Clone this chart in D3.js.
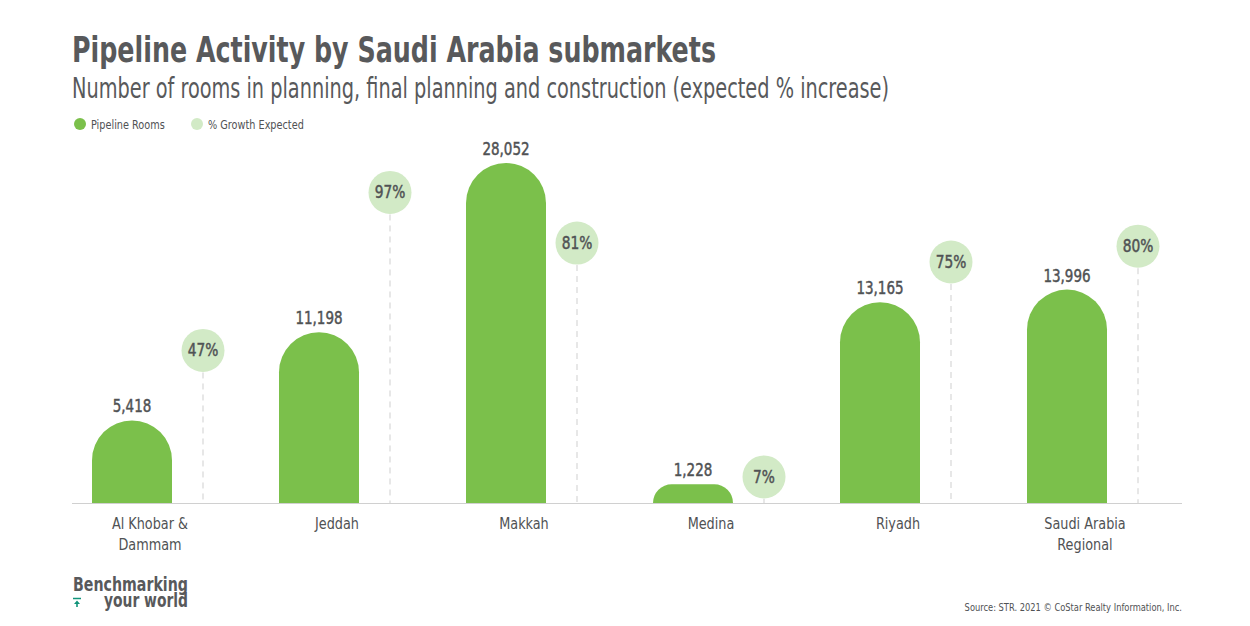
<!DOCTYPE html>
<html>
<head>
<meta charset="utf-8">
<script src="https://cdn.jsdelivr.net/npm/d3@7"></script>
<style>
  body { margin: 0; background: #fff; }
  svg text { font-family: 'Liberation Sans Narrow', 'DejaVu Sans Condensed', sans-serif; }
</style>
</head>
<body>
<script>
// chart data
const submarkets = ["Al Khobar & Dammam", "Jeddah", "Makkah", "Medina", "Riyadh", "Saudi Arabia Regional"]
const categoryLines = [["Al Khobar &", "Dammam"], ["Jeddah"], ["Makkah"], ["Medina"], ["Riyadh"], ["Saudi Arabia", "Regional"]]
const pipelineRooms = [5418, 11198, 28052, 1228, 13165, 13996]
const growthExpected = [47, 97, 81, 7, 75, 80]
const legendLabels = ["Pipeline Rooms", "% Growth Expected"]

const width = 1250, height = 626
const baseline = 503
const green = "#7bc04b", lightGreen = "#d2eac6", textGray = "#505254"

const svg = d3.select("body").append("svg")
    .attr("width", width)
    .attr("height", height)

// squeeze text horizontally so it looks like the condensed face of the original
function condense(sel, factor) {
    sel.each(function () {
        const len = this.getComputedTextLength()
        d3.select(this)
            .attr("textLength", len * factor)
            .attr("lengthAdjust", "spacingAndGlyphs")
    })
}

// title + subtitle
svg.append("text")
    .attr("x", 72).attr("y", 62)
    .attr("fill", "#58595b")
    .style("font-size", "36px")
    .style("font-weight", "bold")
    .attr("textLength", 644).attr("lengthAdjust", "spacingAndGlyphs")
    .text("Pipeline Activity by Saudi Arabia submarkets")

svg.append("text")
    .attr("x", 72).attr("y", 98)
    .attr("fill", "#58595b")
    .style("font-size", "29px")
    .attr("textLength", 817).attr("lengthAdjust", "spacingAndGlyphs")
    .text("Number of rooms in planning, final planning and construction (expected % increase)")

// legend
const legend = svg.append("g")
const legendX = [80, 197]
legendLabels.forEach((label, i) => {
    legend.append("circle")
        .attr("cx", legendX[i]).attr("cy", 124).attr("r", 6)
        .attr("fill", i == 0 ? green : lightGreen)
    legend.append("text")
        .attr("x", legendX[i] + 11).attr("y", 128.5)
        .attr("fill", textGray)
        .style("font-size", "13px")
        .text(label)
})
condense(legend.selectAll("text"), 0.83)

// scales
const xScale = d3.scaleBand()
    .domain(submarkets)
    .range([72, 72 + 187 * submarkets.length])

// Makkah is cut off at the top of the plot
const yScale = d3.scaleLinear()
    .domain([0, 22300])
    .range([baseline, 163])
    .clamp(true)

const pctScale = d3.scaleLinear()
    .domain([0, 100])
    .range([baseline - 4, baseline - 320])

const data = submarkets.map((s, i) => ({
    name: s, lines: categoryLines[i], rooms: pipelineRooms[i], pct: growthExpected[i]
}))

const barW = 80
const barX = d => xScale(d.name) + 20
const bubbleX = d => xScale(d.name) + 131

// rounded-top bar path
function barPath(d) {
    const x0 = barX(d), x1 = x0 + barW
    const top = yScale(d.rooms)
    const h = baseline - top
    const r = Math.min(barW / 2, h)
    return "M" + x0 + "," + baseline +
        "V" + (top + r) +
        "A" + r + "," + r + " 0 0 1 " + (x0 + r) + "," + top +
        "H" + (x1 - r) +
        "A" + r + "," + r + " 0 0 1 " + x1 + "," + (top + r) +
        "V" + baseline + "Z"
}

// dashed lines from bubbles to baseline
svg.selectAll(".drop").data(data)
    .enter().append("line")
    .attr("x1", bubbleX).attr("x2", bubbleX)
    .attr("y1", d => pctScale(d.pct)).attr("y2", baseline)
    .attr("stroke", "#cfcfcf")
    .attr("stroke-width", 1)
    .attr("stroke-dasharray", "6,5")

// axis line
svg.append("line")
    .attr("x1", 72).attr("x2", 1182)
    .attr("y1", baseline + 0.5).attr("y2", baseline + 0.5)
    .attr("stroke", "#d0d0d0")
    .attr("stroke-width", 1)

// bars
svg.selectAll(".bar").data(data)
    .enter().append("path")
    .attr("d", barPath)
    .attr("fill", green)

// bar value labels (slight stroke gives a medium weight)
const vals = svg.selectAll(".val").data(data)
    .enter().append("text")
    .attr("x", d => barX(d) + barW / 2)
    .attr("y", d => yScale(d.rooms) - 8)
    .attr("text-anchor", "middle")
    .attr("fill", textGray)
    .attr("stroke", textGray)
    .attr("stroke-width", 0.45)
    .style("font-size", "17px")
    .text(d => d3.format(",")(d.rooms))
condense(vals, 0.88)

// growth bubbles
svg.selectAll(".bubble").data(data)
    .enter().append("circle")
    .attr("cx", bubbleX)
    .attr("cy", d => pctScale(d.pct))
    .attr("r", 21.5)
    .attr("fill", lightGreen)

const pcts = svg.selectAll(".pct").data(data)
    .enter().append("text")
    .attr("x", bubbleX)
    .attr("y", d => pctScale(d.pct) + 6)
    .attr("text-anchor", "middle")
    .attr("fill", textGray)
    .attr("stroke", textGray)
    .attr("stroke-width", 0.45)
    .style("font-size", "17px")
    .text(d => d.pct + "%")
condense(pcts, 0.9)

// category labels
const cat = svg.selectAll(".cat").data(data)
    .enter().append("text")
    .attr("y", 529)
    .attr("text-anchor", "middle")
    .attr("fill", textGray)
    .style("font-size", "15.5px")

cat.selectAll("tspan").data(d => d.lines.map(l => ({ l, x: barX(d) + barW / 2 + 18 })))
    .enter().append("tspan")
    .attr("x", t => t.x)
    .attr("dy", (t, i) => i == 0 ? 0 : 21)
    .text(t => t.l)
condense(cat.selectAll("tspan"), 0.92)

// logo
svg.append("text")
    .attr("x", 188).attr("y", 591)
    .attr("text-anchor", "end")
    .attr("fill", "#58595b")
    .style("font-size", "19px")
    .style("font-weight", "bold")
    .attr("textLength", 115).attr("lengthAdjust", "spacingAndGlyphs")
    .text("Benchmarking")

svg.append("text")
    .attr("x", 188).attr("y", 607)
    .attr("text-anchor", "end")
    .attr("fill", "#58595b")
    .style("font-size", "19px")
    .style("font-weight", "bold")
    .attr("textLength", 84).attr("lengthAdjust", "spacingAndGlyphs")
    .text("your world")

const teal = "#12947a"
svg.append("line")
    .attr("x1", 73).attr("x2", 81).attr("y1", 598.5).attr("y2", 598.5)
    .attr("stroke", teal).attr("stroke-width", 1.5)
svg.append("path")
    .attr("d", "M74,604 L77,600.5 L80,604 Z M76.2,603 H77.8 V607 H76.2 Z")
    .attr("fill", teal)

// source
const source = svg.append("text")
    .attr("x", 1182).attr("y", 611)
    .attr("text-anchor", "end")
    .attr("fill", textGray)
    .style("font-size", "11px")
    .text("Source: STR. 2021 © CoStar Realty Information, Inc.")
condense(source, 0.84)
</script>
</body>
</html>
